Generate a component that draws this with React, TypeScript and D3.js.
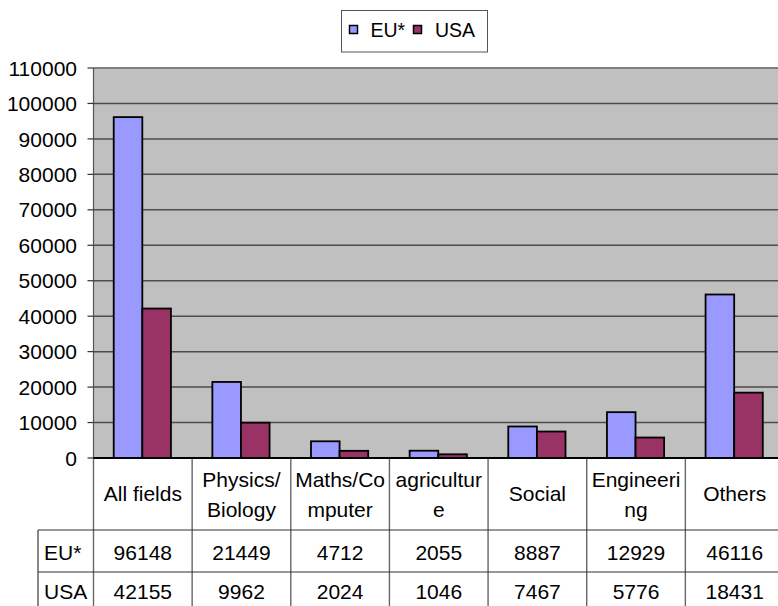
import React from "react";
import * as d3 from "d3";

const categories = ["All fields", "Physics/Biology", "Maths/Computer", "agriculture", "Social", "Engineering", "Others"];
const categoryLines = [["All fields"], ["Physics/", "Biology"], ["Maths/Co", "mputer"], ["agricultur", "e"], ["Social"], ["Engineeri", "ng"], ["Others"]];
const seriesNames = ["EU*", "USA"];
const euValues = [96148, 21449, 4712, 2055, 8887, 12929, 46116];
const usaValues = [42155, 9962, 2024, 1046, 7467, 5776, 18431];
const yTicks = [0, 10000, 20000, 30000, 40000, 50000, 60000, 70000, 80000, 90000, 100000, 110000];
const colors = ["#9999FF", "#993366"];

const W = 778, H = 606;
const plotL = 93.5, plotR = 784, plotT = 68, plotB = 458;
const headerB = 530, row1B = 572, row2B = 614;
const tableL = 38;
const FONT = "'Liberation Sans', Arial, sans-serif";
const FS = 21;

export default function App() {
  const x = d3.scaleBand<string>().domain(categories).range([plotL, plotR]).paddingInner(0).paddingOuter(0);
  const y = d3.scaleLinear().domain([0, 110000]).range([plotB, plotT]);
  const bw = x.bandwidth() * 0.29;
  const series = [euValues, usaValues];

  return (
    <svg width={W} height={H} style={{ position: "absolute", left: 0, top: 0, fontFamily: FONT }}>
      <rect x={0} y={0} width={W} height={H} fill="#fff" />
      {/* plot area */}
      <rect x={plotL} y={plotT} width={plotR - plotL} height={plotB - plotT} fill="#C0C0C0" />
      {yTicks.map((t) => (
        <line key={"g" + t} x1={plotL} x2={plotR} y1={y(t)} y2={y(t)}
          stroke={t === 110000 ? "#808080" : "#4d4d4d"} strokeWidth={t === 110000 ? 2 : 1.5} />
      ))}
      {/* y axis */}
      <line x1={plotL} x2={plotL} y1={plotT} y2={plotB} stroke="#555" strokeWidth={1.2} />
      {yTicks.map((t) => (
        <g key={"t" + t}>
          <line x1={plotL - 6} x2={plotL} y1={y(t)} y2={y(t)} stroke="#333" strokeWidth={1.2} />
          <text x={77} y={y(t) + 7.6} textAnchor="end" fontSize={FS} fill="#000">{t}</text>
        </g>
      ))}
      {/* bars */}
      {categories.map((c, i) => {
        const cx = (x(c) as number) + x.bandwidth() / 2 - 0.5;
        return series.map((vals, s) => (
          <rect key={c + s} x={cx - bw + s * bw} y={y(vals[i])} width={bw} height={plotB - y(vals[i])}
            fill={colors[s]} stroke="#000" strokeWidth={1.8} />
        ));
      })}
      {/* table */}
      {categories.map((c) => (
        <line key={"v" + c} x1={x(c) as number} x2={x(c) as number} y1={plotB} y2={row2B} stroke="#666" strokeWidth={1.4} />
      ))}
      <line x1={tableL} x2={tableL} y1={headerB} y2={row2B} stroke="#555" strokeWidth={1.4} />
      <line x1={plotL} x2={plotR} y1={plotB} y2={plotB} stroke="#000" strokeWidth={1.8} />
      <line x1={tableL} x2={plotR} y1={headerB} y2={headerB} stroke="#333" strokeWidth={1.2} />
      <line x1={tableL} x2={plotR} y1={row1B} y2={row1B} stroke="#333" strokeWidth={1.2} />
      {categories.map((c, i) => {
        const cx = (x(c) as number) + x.bandwidth() / 2;
        const lines = categoryLines[i];
        const baselines = lines.length === 1 ? [500.5] : [487, 517];
        return (
          <g key={"h" + c}>
            {lines.map((l, k) => (
              <text key={k} x={cx} y={baselines[k]} textAnchor="middle" fontSize={FS} fill="#000">{l}</text>
            ))}
            <text x={cx} y={560} textAnchor="middle" fontSize={FS} fill="#000">{euValues[i]}</text>
            <text x={cx} y={599} textAnchor="middle" fontSize={FS} fill="#000">{usaValues[i]}</text>
          </g>
        );
      })}
      <text x={44} y={560} fontSize={FS} fill="#000">{seriesNames[0]}</text>
      <text x={44} y={599} fontSize={FS} fill="#000">{seriesNames[1]}</text>
      {/* legend */}
      <rect x={341.5} y={10.5} width={146} height={41.5} fill="#fff" stroke="#555" strokeWidth={1} />
      {seriesNames.map((n, s) => {
        const sx = [349.5, 413.5][s];
        const tx = [370.5, 435][s];
        return (
          <g key={"l" + n}>
            <rect x={sx} y={25.5} width={8} height={8} fill={colors[s]} stroke="#000" strokeWidth={1.5} />
            <text x={tx} y={37} fontSize={19.5} fill="#000">{n}</text>
          </g>
        );
      })}
    </svg>
  );
}
